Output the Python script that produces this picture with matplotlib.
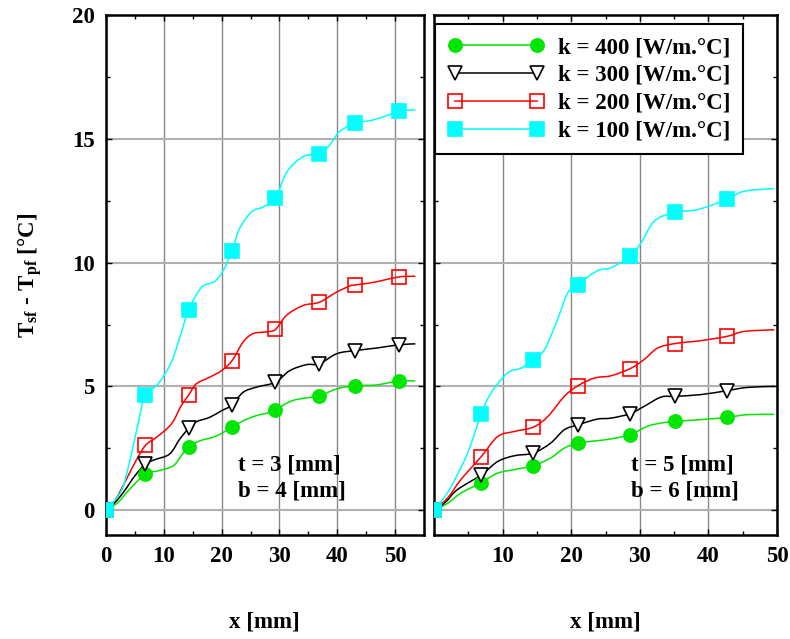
import matplotlib
matplotlib.use("Agg")
import matplotlib.pyplot as plt
import numpy as np
from matplotlib.ticker import MultipleLocator, FixedLocator
from matplotlib.path import Path
from matplotlib.patches import PathPatch

plt.rcParams['font.family'] = ['Liberation Serif', 'DejaVu Serif']
plt.rcParams['font.weight'] = 'bold'
plt.rcParams['mathtext.fontset'] = 'custom'
plt.rcParams['mathtext.rm'] = 'Liberation Serif:bold'
plt.rcParams['mathtext.bf'] = 'Liberation Serif:bold'
plt.rcParams['mathtext.it'] = 'Liberation Serif:bold'

# ---------------- data ----------------
series_labels = ["k = 400 [W/m.°C]", "k = 300 [W/m.°C]", "k = 200 [W/m.°C]", "k = 100 [W/m.°C]"]

# left panel: t = 3 mm, b = 4 mm  (markers)
xm_left = [0, 6.8, 14.3, 21.8, 29.3, 36.9, 43.1, 50.6]
k400_left = [0, 1.46, 2.56, 3.35, 4.05, 4.63, 5.03, 5.22]
k300_left = [0, 1.86, 3.31, 4.25, 5.17, 5.91, 6.45, 6.68]
k200_left = [0, 2.64, 4.65, 6.04, 7.30, 8.40, 9.10, 9.42]
k100_left = [0, 4.65, 8.10, 10.47, 12.60, 14.40, 15.62, 16.12]

# left panel curves
c400_left_x = [0, 2.0, 4.1, 6.8, 9.0, 11.6, 13.0, 14.3, 16.2, 19.1, 21.8, 23.7, 26.0, 28.0, 29.3, 32.3, 36.9, 39.9, 43.1, 46.8, 50.6, 53.5]
c400_left_y = [0, 0.30, 0.85, 1.46, 1.59, 1.79, 2.20, 2.56, 2.80, 3.00, 3.35, 3.61, 3.82, 3.93, 4.05, 4.43, 4.63, 4.90, 5.03, 5.06, 5.22, 5.22]
c300_left_x = [0, 1.5, 3.0, 5.0, 6.8, 8.4, 11.0, 12.75, 14.3, 15.6, 17.9, 20.0, 21.8, 23.7, 26.0, 29.3, 31.8, 34.7, 36.9, 39.9, 43.1, 46.8, 50.6, 53.5]
c300_left_y = [0, 0.30, 0.72, 1.39, 1.86, 2.04, 2.27, 2.87, 3.31, 3.57, 3.75, 4.02, 4.25, 4.76, 4.97, 5.17, 5.64, 5.88, 5.91, 6.32, 6.45, 6.55, 6.68, 6.72]
c200_left_x = [0, 1.7, 3.5, 5.3, 6.9, 8.7, 11.3, 13.0, 14.3, 15.6, 17.9, 20.0, 21.8, 23.7, 25.4, 27.5, 29.3, 31.2, 34.1, 36.9, 39.9, 42.2, 43.1, 46.2, 50.6, 53.5]
c200_left_y = [0, 0.45, 1.24, 2.05, 2.64, 2.94, 3.48, 4.22, 4.65, 5.10, 5.37, 5.64, 6.04, 6.79, 7.13, 7.20, 7.30, 7.87, 8.27, 8.40, 8.81, 9.06, 9.10, 9.20, 9.42, 9.45]
c100_left_x = [0, 1.5, 3.0, 4.7, 5.6, 6.8, 9.0, 11.3, 13.05, 14.3, 16.5, 18.8, 20.3, 21.8, 23.1, 25.2, 27.2, 29.3, 31.3, 34.1, 36.9, 38.7, 40.4, 43.1, 46.2, 48.8, 50.6, 53.5]
c100_left_y = [0, 0.40, 0.98, 2.60, 3.55, 4.65, 5.10, 5.98, 7.20, 8.10, 9.00, 9.24, 9.69, 10.47, 11.38, 12.05, 12.25, 12.60, 13.67, 14.28, 14.40, 14.75, 15.29, 15.62, 15.76, 15.96, 16.12, 16.17]

# right panel: t = 5 mm, b = 6 mm (markers)
xm_right = [0, 6.9, 14.5, 21.0, 28.6, 35.1, 42.7]
k400_right = [0, 1.12, 1.80, 2.71, 3.05, 3.59, 3.75]
k300_right = [0, 1.43, 2.31, 3.45, 3.90, 4.60, 4.83]
k200_right = [0, 2.17, 3.36, 5.03, 5.72, 6.73, 7.02]
k100_right = [0, 3.90, 6.08, 9.11, 10.25, 12.03, 12.55]

c400_right_x = [0, 2.0, 3.9, 6.9, 9.3, 11.7, 14.5, 17.0, 19.0, 21.0, 23.8, 25.8, 28.6, 31.1, 33.1, 35.1, 38.9, 42.7, 45.7, 49.6]
c400_right_y = [0, 0.28, 0.69, 1.12, 1.50, 1.64, 1.80, 2.11, 2.51, 2.71, 2.81, 2.88, 3.05, 3.39, 3.52, 3.59, 3.66, 3.75, 3.86, 3.87]
c300_right_x = [0, 1.7, 3.4, 6.9, 9.3, 11.7, 14.5, 17.0, 19.0, 21.0, 23.8, 25.8, 28.6, 30.6, 33.1, 35.1, 38.9, 42.7, 45.7, 49.6]
c300_right_y = [0, 0.33, 0.83, 1.43, 1.97, 2.20, 2.31, 2.71, 3.25, 3.45, 3.68, 3.72, 3.90, 4.19, 4.57, 4.60, 4.67, 4.83, 4.96, 5.00]
c200_right_x = [0, 2.0, 3.9, 6.9, 9.3, 11.7, 14.5, 16.6, 19.0, 21.0, 23.4, 25.8, 28.6, 30.6, 32.6, 35.1, 38.9, 42.7, 45.2, 49.6]
c200_right_y = [0, 0.50, 1.23, 2.17, 2.98, 3.18, 3.36, 3.79, 4.60, 5.03, 5.34, 5.43, 5.72, 6.08, 6.55, 6.73, 6.85, 7.02, 7.22, 7.29]
c100_right_x = [0, 1.2, 2.5, 4.9, 6.9, 8.3, 10.7, 12.7, 14.5, 16.1, 18.0, 19.5, 21.0, 22.9, 24.3, 25.8, 28.6, 30.2, 32.1, 35.0, 38.4, 42.7, 45.2, 49.6]
c100_right_y = [0, 0.40, 0.96, 2.31, 3.90, 4.73, 5.54, 5.74, 6.08, 6.48, 7.70, 8.78, 9.11, 9.52, 9.72, 9.79, 10.25, 10.80, 11.67, 12.03, 12.14, 12.55, 12.88, 12.99]

x_ticks_left = [0, 10, 20, 30, 40, 50]
x_ticks_right = [10, 20, 30, 40, 50]
y_ticks = [0, 5, 10, 15, 20]

# ---------------- styles ----------------
colors = ['#00e600', 'black', '#ff0000', '#00ffff']
mstyle = [
    dict(marker='o', mfc='#00e600', mec='#00e600'),
    dict(marker='v', mfc='white', mec='black'),
    dict(marker='s', mfc='none', mec='#ff0000'),
    dict(marker='s', mfc='#00ffff', mec='#00ffff'),
]
FS = 16.5


def smooth_path(xs, ys):
    """Cubic Bezier path through the read points (Catmull-Rom control points)."""
    x = np.asarray(xs, float)
    y = np.asarray(ys, float)
    n = len(x)
    verts = [(x[0], y[0])]
    codes = [Path.MOVETO]
    for i in range(n - 1):
        i0 = max(i - 1, 0)
        i3 = min(i + 2, n - 1)
        c1 = (x[i] + (x[i + 1] - x[i0]) / 6, y[i] + (y[i + 1] - y[i0]) / 6)
        c2 = (x[i + 1] - (x[i3] - x[i]) / 6, y[i + 1] - (y[i3] - y[i]) / 6)
        verts += [c1, c2, (x[i + 1], y[i + 1])]
        codes += [Path.CURVE4] * 3
    return Path(verts, codes)


fig = plt.figure(figsize=(7.9, 6.39), dpi=100)
axL = fig.add_axes([106/790, 1-535/639, (424-106)/790, (535-15)/639])
axR = fig.add_axes([434/790, 1-535/639, (777-434)/790, (535-15)/639])

left_curves = [(c400_left_x, c400_left_y), (c300_left_x, c300_left_y),
               (c200_left_x, c200_left_y), (c100_left_x, c100_left_y)]
left_marks = [k400_left, k300_left, k200_left, k100_left]
right_curves = [(c400_right_x, c400_right_y), (c300_right_x, c300_right_y),
                (c200_right_x, c200_right_y), (c100_right_x, c100_right_y)]
right_marks = [k400_right, k300_right, k200_right, k100_right]

handles = []
for ax, curves, marks, xm in [(axL, left_curves, left_marks, xm_left),
                               (axR, right_curves, right_marks, xm_right)]:
    for i in range(4):
        cx, cy = curves[i]
        ax.add_patch(PathPatch(smooth_path(cx, cy), fill=False, edgecolor=colors[i],
                               lw=1.1, zorder=3))
        ax.plot(xm, marks[i], ls='none', ms=9.5, mew=1.2, zorder=4, **mstyle[i])
        if ax is axR:
            h, = ax.plot([], [], color=colors[i], lw=1.1, ms=9.5, mew=1.2, **mstyle[i])
            handles.append(h)

for ax in (axL, axR):
    ax.set_ylim(-1, 20)
    ax.yaxis.set_major_locator(FixedLocator(y_ticks))
    ax.yaxis.set_minor_locator(MultipleLocator(2.5))
    ax.xaxis.set_minor_locator(MultipleLocator(5))
    ax.tick_params(which='both', direction='in', top=True, right=True)
    ax.tick_params(which='major', length=4, width=1, labelsize=FS, pad=8)
    ax.tick_params(which='minor', length=3, width=1)
    for s in ax.spines.values():
        s.set_linewidth(1.8)
    ax.xaxis.grid(True, color='#888888', lw=1.0, zorder=0)
    ax.yaxis.grid(True, color='#b0b0b0', lw=1.5, zorder=0)
    ax.set_axisbelow(True)
    for lab in ax.get_xticklabels() + ax.get_yticklabels():
        lab.set_fontweight('bold')

axL.set_xlim(0, 55)
axL.xaxis.set_major_locator(FixedLocator(x_ticks_left))
axR.set_xlim(0, 50)
axR.xaxis.set_major_locator(FixedLocator(x_ticks_right))
axR.tick_params(labelleft=False)

axL.set_ylabel(r'$\mathbf{T_{sf}\ \text{-}\ T_{pf}}$ [°C]', fontsize=FS, fontweight='bold', labelpad=20)
fig.text(264/790, 1-622/639, 'x [mm]', ha='center', va='center', fontsize=FS, fontweight='bold')
fig.text(605/790, 1-622/639, 'x [mm]', ha='center', va='center', fontsize=FS, fontweight='bold')

axL.text(22.8, 1.3, 't = 3 [mm]\nb = 4 [mm]', fontsize=FS, fontweight='bold', va='center', ha='left', linespacing=1.3)
axR.text(28.7, 1.3, 't = 5 [mm]\nb = 6 [mm]', fontsize=FS, fontweight='bold', va='center', ha='left', linespacing=1.3)

leg = axR.legend(handles, series_labels, loc='upper left', bbox_to_anchor=(0.003, 0.982),
                 borderaxespad=0, numpoints=2, handlelength=4.2, handletextpad=0.6,
                 labelspacing=0.3, borderpad=0.55, fancybox=False, framealpha=1,
                 prop=dict(family='Liberation Serif', weight='bold', size=FS))
leg.get_frame().set_edgecolor('black')
leg.get_frame().set_linewidth(1.5)

fig.savefig('out.png', dpi=100)
